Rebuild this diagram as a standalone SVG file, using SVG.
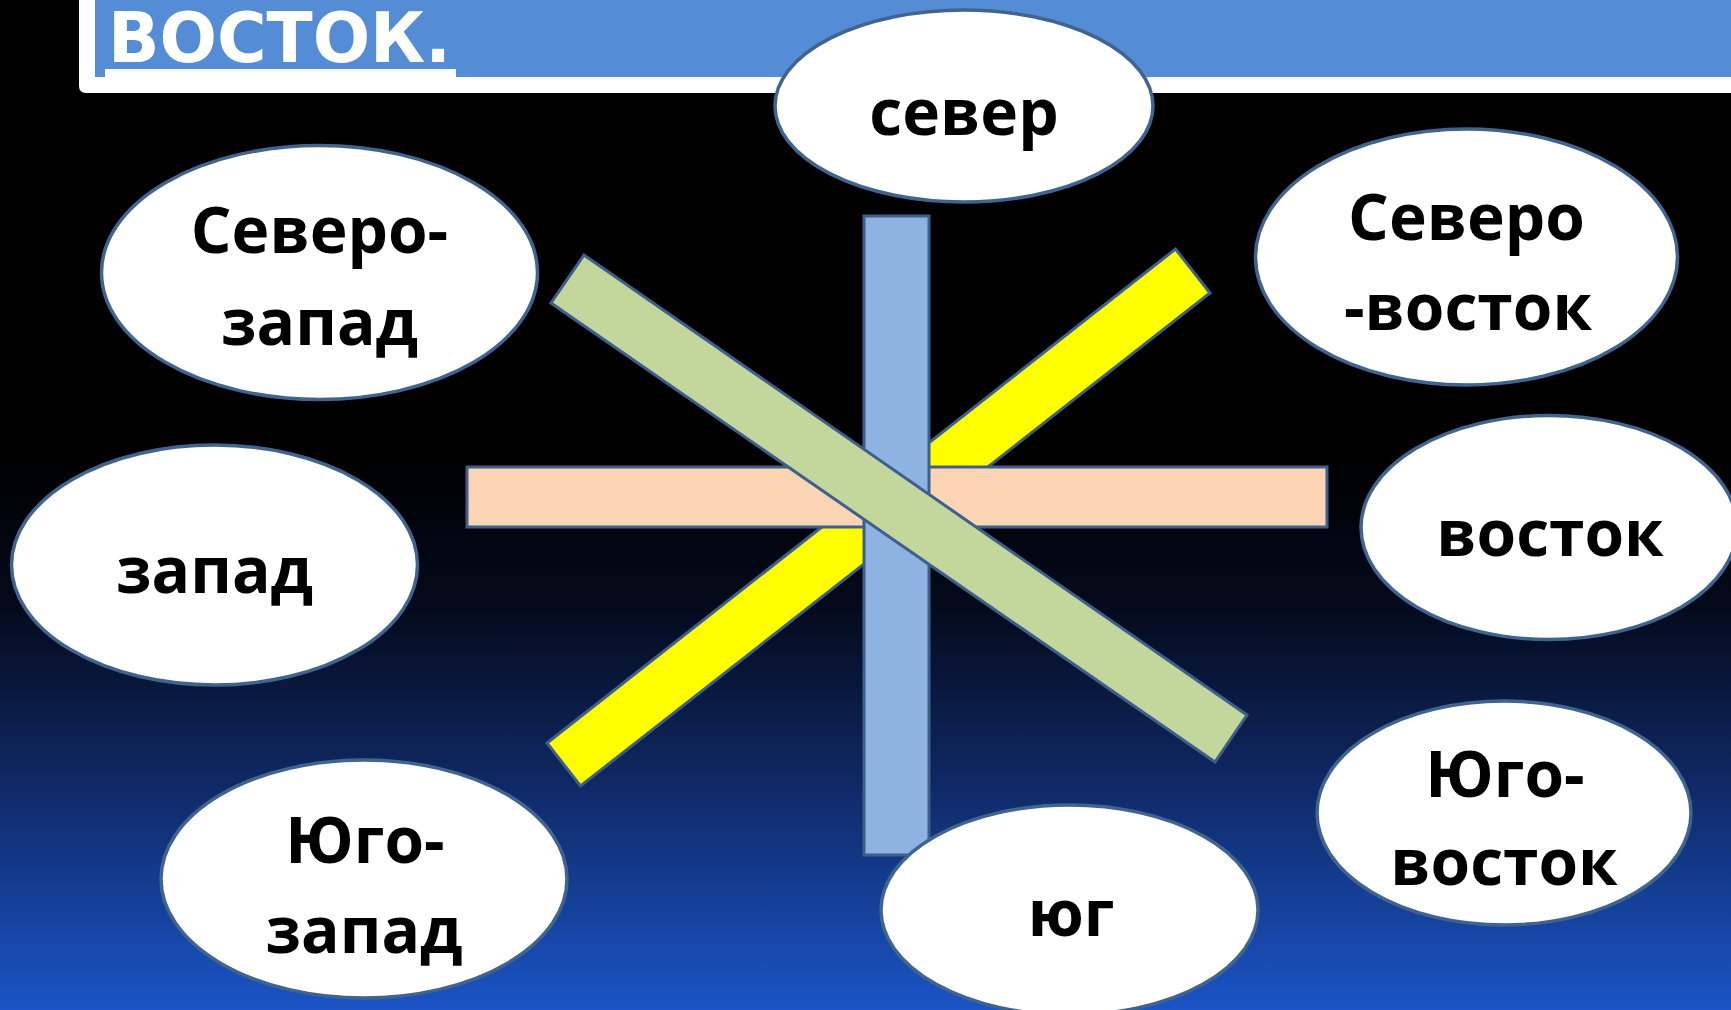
<svg xmlns="http://www.w3.org/2000/svg" width="1731" height="1010" viewBox="0 0 1731 1010">
<defs>
<linearGradient id="bg" x1="0" y1="0" x2="0" y2="1">
<stop offset="0" stop-color="#000000"/>
<stop offset="0.45" stop-color="#000000"/>
<stop offset="0.6" stop-color="#040a1c"/>
<stop offset="0.75" stop-color="#0e245a"/>
<stop offset="1" stop-color="#1b54c6"/>
</linearGradient>
<style>
.node ellipse{fill:#ffffff;stroke:#41648f;stroke-width:3.5}
.node text{font-family:"Open Sans","DejaVu Sans",sans-serif;font-weight:700;font-size:64px;fill:#000000;text-anchor:middle}
.bar{stroke:#3e5f8b;stroke-width:3;stroke-linejoin:miter}
.title{font-family:"DejaVu Sans","Liberation Sans",sans-serif;font-weight:700;font-size:70px;fill:#ffffff}
</style>
</defs>
<rect x="0" y="0" width="1731" height="1010" fill="url(#bg)"/>
<g id="banner">
<path d="M79,0 H1731 V93 H86 Q79,93 79,86 Z" fill="#ffffff"/>
<rect x="95" y="0" width="1636" height="77" fill="#548dd6"/>
<rect x="105" y="69" width="351" height="8" fill="#ffffff"/>
<text class="title" x="108" y="62" textLength="343" lengthAdjust="spacingAndGlyphs">ВОСТОК.</text>
</g>
<g id="connectors">
<polygon class="bar" points="1175.5,249 1210,293 580.5,786 547,743" fill="#ffff00"/>
<rect class="bar" x="467" y="467" width="860" height="60" fill="#fbd4b4"/>
<rect class="bar" x="864" y="216" width="65" height="639" fill="#8eb3e3"/>
<polygon class="bar" points="584,255 1247,715 1215,762 551,303" fill="#c3d69b"/>
</g>
<g id="node-sever" class="node">
<ellipse cx="964" cy="106" rx="189" ry="96"/>
<text x="964" y="135">север</text>
</g>
<g id="node-severo-zapad" class="node">
<ellipse cx="319.5" cy="272.5" rx="218" ry="127"/>
<text x="319.5" y="253">Северо-</text>
<text x="319.5" y="345">запад</text>
</g>
<g id="node-severo-vostok" class="node">
<ellipse cx="1466.5" cy="257" rx="211" ry="128"/>
<text x="1466.5" y="240">Северо</text>
<text x="1468" y="330">-восток</text>
</g>
<g id="node-zapad" class="node">
<ellipse cx="214.5" cy="565" rx="203" ry="120"/>
<text x="214.5" y="593">запад</text>
</g>
<g id="node-vostok" class="node">
<ellipse cx="1549" cy="527.5" rx="188" ry="112"/>
<text x="1550" y="556">восток</text>
</g>
<g id="node-yugo-zapad" class="node">
<ellipse cx="364" cy="879" rx="203" ry="119"/>
<text x="365" y="863">Юго-</text>
<text x="364" y="953">запад</text>
</g>
<g id="node-yug" class="node">
<ellipse cx="1069.5" cy="910" rx="188.5" ry="105"/>
<text x="1071" y="936">юг</text>
</g>
<g id="node-yugo-vostok" class="node">
<ellipse cx="1504" cy="813" rx="187" ry="112"/>
<text x="1505" y="797">Юго-</text>
<text x="1504" y="885">восток</text>
</g>
</svg>
